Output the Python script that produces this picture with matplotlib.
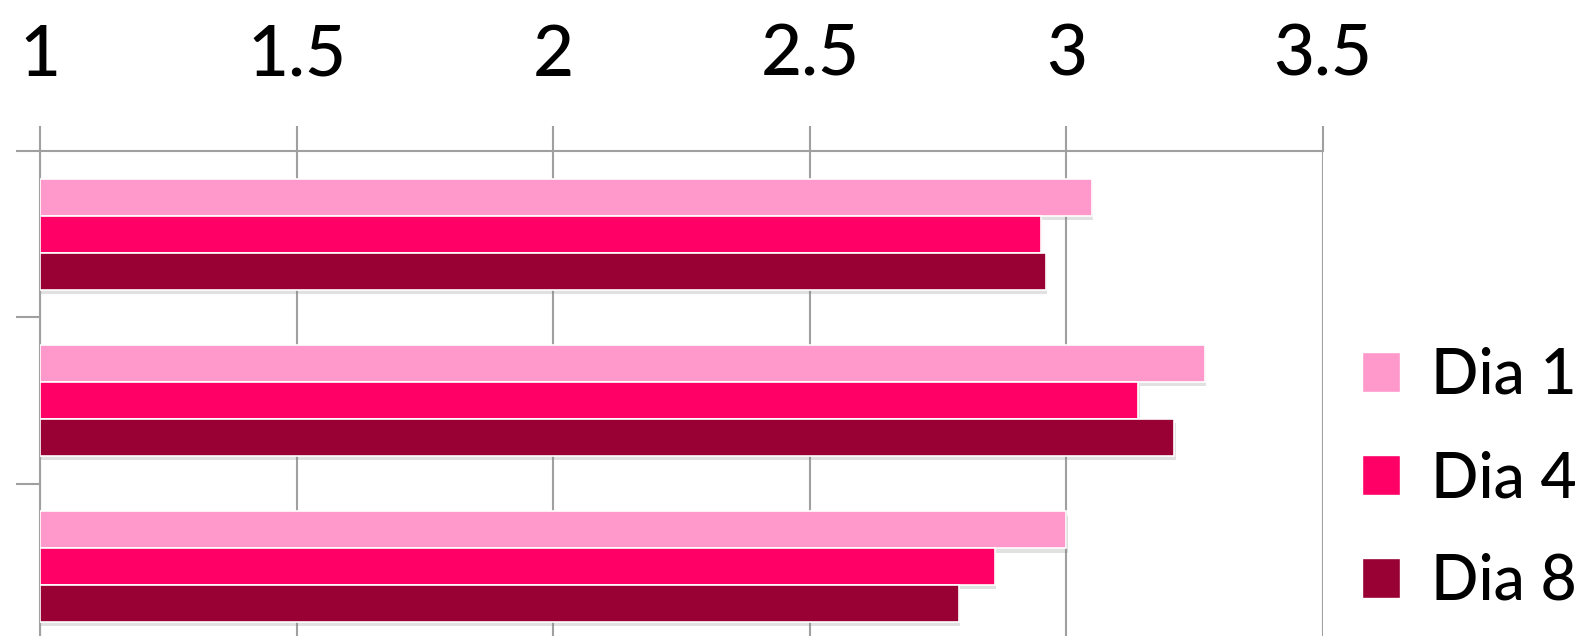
import numpy as np
import matplotlib
matplotlib.use("Agg")
import matplotlib.pyplot as plt
import matplotlib.patheffects as pe
from matplotlib.patches import Patch

# -----------------------------
# Data
# -----------------------------
series_names = ["Dia 1", "Dia 4", "Dia 8"]
series_colors = ["#FF99CC", "#FF0066", "#990033"]
dia1 = [3.05, 3.27, 3.00]
dia4 = [2.95, 3.14, 2.86]
dia8 = [2.96, 3.21, 2.79]
x_ticks = [1, 1.5, 2, 2.5, 3, 3.5]
x_tick_labels = ["1", "1.5", "2", "2.5", "3", "3.5"]

plt.rcParams["font.family"] = ["Lato", "DejaVu Sans"]

fig = plt.figure(figsize=(15.8, 6.36), dpi=100)
# axes runs off the bottom of the picture, like the cropped original
ax = fig.add_axes([40 / 1580, -14 / 636, (1323 - 40) / 1580, (650 - 151) / 636])

groups = np.arange(len(dia1))
bar_h = 0.222
shadow = [pe.SimplePatchShadow(offset=(1, -3), shadow_rgbFace="#888888", alpha=0.25), pe.Normal()]
for k, (vals, color, name) in enumerate(zip([dia1, dia4, dia8], series_colors, series_names)):
    bars = ax.barh(groups + (k - 1) * bar_h, np.array(vals) - 1, left=1, height=bar_h,
                   color=color, edgecolor="white", linewidth=1.2, label=name, zorder=3)
    for b in bars:
        b.set_path_effects(shadow)

ax.set_xlim(1, 3.5)
ax.set_ylim(2.5, -0.5)

ax.set_xticks(x_ticks)
ax.set_xticklabels(x_tick_labels, fontweight="medium")
ax.xaxis.tick_top()
ax.tick_params(axis="x", direction="out", length=18, width=1.5, color="#A0A0A0",
               labelsize=51, pad=27)
ax.grid(axis="x", color="#A0A0A0", linewidth=1.5, zorder=0)

# category boundaries as ticks on the left, no labels
ax.set_yticks([-0.5, 0.5, 1.5, 2.5])
ax.set_yticklabels([])
ax.tick_params(axis="y", direction="out", length=17, width=1.5, color="#A0A0A0")

for side in ["right", "bottom"]:
    ax.spines[side].set_visible(False)
for side in ["top", "left"]:
    ax.spines[side].set_color("#A0A0A0")
    ax.spines[side].set_linewidth(1.5)

handles = [Patch(facecolor=c, edgecolor="white", label=n) for c, n in zip(series_colors, series_names)]
fig.legend(handles=handles, loc="center left", bbox_to_anchor=(1362 / 1580, 1 - 479 / 636),
           frameon=False, prop={"size": 45, "weight": "medium"}, handlelength=0.6,
           handleheight=0.6, handletextpad=0.5, labelspacing=0.72, borderpad=0,
           borderaxespad=0)

fig.savefig("out.png", dpi=100)
